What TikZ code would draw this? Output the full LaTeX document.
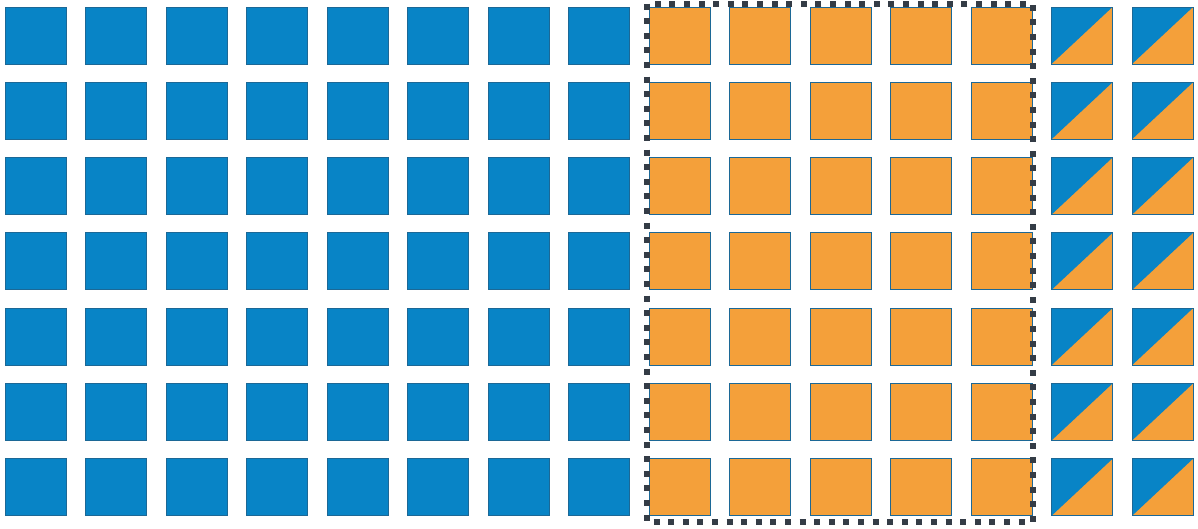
\documentclass[tikz,border=0pt]{standalone}
\definecolor{cellblue}{RGB}{8,132,198}
\definecolor{cellorange}{RGB}{244,160,58}
\definecolor{celledge}{RGB}{28,104,150}
\definecolor{framegray}{RGB}{52,60,70}
\begin{document}
\begin{tikzpicture}[x=1pt,y=-1pt,
  cell/.style={draw=celledge,line width=0.9pt,minimum width=61pt,minimum height=57pt,
    inner sep=0pt,outer sep=0pt,anchor=north west},
  bluecell/.style={cell,fill=cellblue},
  orangecell/.style={cell,fill=cellorange},
  splitcell/.style={cell,fill=cellorange,
    path picture={\fill[cellblue] (path picture bounding box.south west)
      -- (path picture bounding box.north west)
      -- (path picture bounding box.north east) -- cycle;}}]
  \useasboundingbox (0,0) rectangle (1198,528);
  % seven rows of cells
  \foreach \r in {0,...,6}{
    \pgfmathsetmacro\yy{7+75.3*\r}
    \foreach \c in {0,...,7}
      \node[bluecell] (s-\r-\c) at ({5+80.5*\c},\yy) {};
    \foreach \c in {8,...,12}
      \node[orangecell] (s-\r-\c) at ({5+80.5*\c},\yy) {};
    \foreach \c in {13,14}
      \node[splitcell] (s-\r-\c) at ({5+80.5*\c},\yy) {};
  }
  % dotted frame round the orange block
  \draw[framegray,line width=6pt,dash pattern=on 6pt off 8.6pt] (646.5,3.5) rectangle (1033,522);
\end{tikzpicture}
\end{document}
